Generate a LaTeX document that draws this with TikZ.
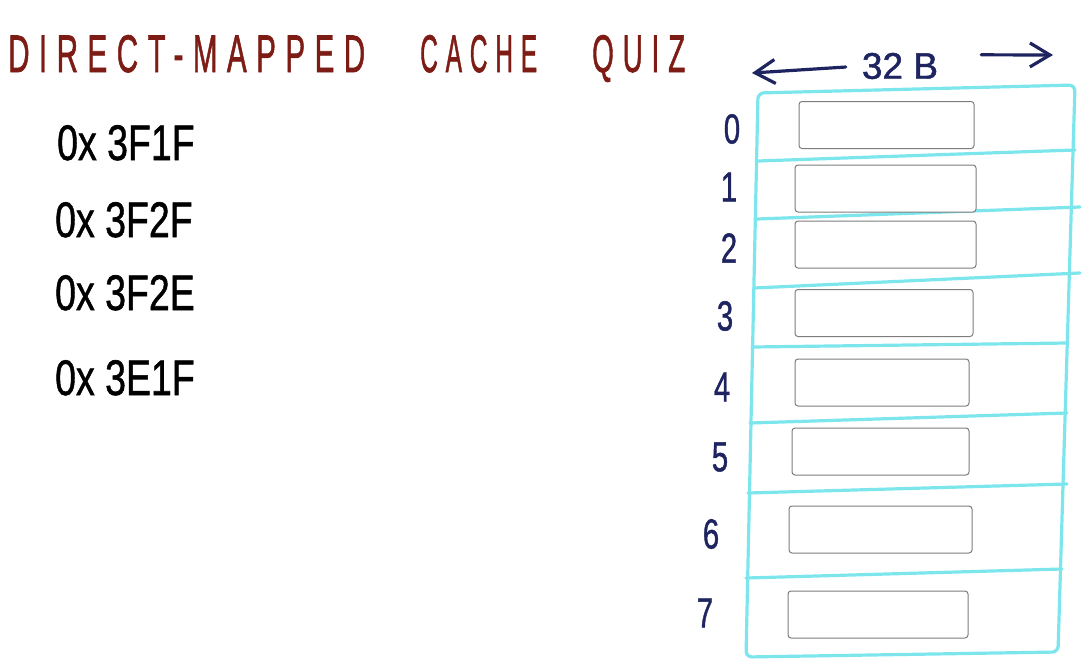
\documentclass[tikz,border=0pt]{standalone}
\usepackage{fontspec}
\setmainfont{Liberation Sans}
\newfontfamily\titlefont[LetterSpace=32,FakeBold=1.5]{Liberation Sans}
\newfontfamily\inkfont[FakeBold=1.2]{Liberation Sans}
\usepackage{tikz}
\usetikzlibrary{arrows.meta}

\definecolor{quizred}{RGB}{125,28,20}
\definecolor{inkblue}{RGB}{30,36,96}
\definecolor{gridcyan}{RGB}{125,230,236}
\definecolor{slotgray}{RGB}{125,125,125}

\begin{document}
\begin{tikzpicture}[
    x=1pt, y=-1pt,
    heading/.style={
        text=quizred,
        font=\titlefont\fontsize{44}{44}\selectfont,
        inner sep=0pt,
        anchor=base west
    },
    address/.style={
        font=\inkfont\fontsize{50}{50}\selectfont,
        xscale=0.75,
        inner sep=0pt,
        anchor=base west
    },
    index/.style={
        text=inkblue,
        font=\inkfont\fontsize{42}{42}\selectfont,
        xscale=0.7,
        inner sep=0pt
    },
    slot/.style={
        rectangle,
        rounded corners=3pt,
        draw=slotgray,
        fill=white,
        line width=1pt,
        minimum height=47pt,
        inner sep=0pt
    },
    gridline/.style={draw=gridcyan, line width=3.2pt, line cap=round, line join=round},
    arrow/.style={draw=inkblue, line width=3.2pt, line cap=round,
        -{Straight Barb[length=20pt,width=24pt,line width=3.2pt]}}
]
\useasboundingbox (0,0) rectangle (1092,662);

% Title
\node[heading] (direct) at (8,72)   {\resizebox{357pt}{37pt}{DIRECT-MAPPED}};
\node[heading] (cache)  at (420,72) {\resizebox{117pt}{37pt}{CACHE}};
\node[heading] (quiz)   at (592,72) {\resizebox{93pt}{37pt}{QUIZ}};

% Addresses
\node[address] (addr1) at (57,160) {0x 3F1F};
\node[address] (addr2) at (55,237) {0x 3F2F};
\node[address] (addr3) at (55,310) {0x 3F2E};
\node[address] (addr4) at (55,395) {0x 3E1F};

% Cache lines
\draw[gridline, rounded corners=6pt] (758,93) -- (1075,85) -- (1058,652) -- (746,657) -- cycle;
\foreach \xa/\ya/\xb/\yb in {758/161/1075/150, 757/219/1080/207, 754/288/1080/273,
    752/347/1068/343, 750/423/1067/413, 748/493/1067/484, 746/578/1062/569}
    \draw[gridline] (\xa,\ya) -- (\xb,\yb);

\foreach \i/\x/\y/\w in {0/886.5/125/175, 1/885.5/188.5/181, 2/885.5/244.5/181,
    3/884/313/178, 4/882/382.5/174, 5/880.5/451.5/177, 6/880.5/529.5/183, 7/878/614.5/180}
    \node[slot, minimum width=\w pt] (box\i) at (\x,\y) {};

% Set indices
\foreach \i/\x/\y in {0/732/129, 1/729/187, 2/729/248, 3/725/316,
    4/722/387, 5/720/457, 6/711/534, 7/705/613}
    \node[index] (set\i) at (\x,\y) {\i};

% Block size
\node[text=inkblue, font=\inkfont\fontsize{37}{37}\selectfont, inner sep=0pt] (width) at (900,66) {32 B};
\coordinate (lefttip) at (752,73);
\coordinate (righttip) at (1053,55);
\draw[arrow, shorten <=16pt] (width.west) -- (lefttip);
\draw[arrow, shorten <=43pt] ([yshift=-2pt]width.north east) -- (righttip);

\end{tikzpicture}
\end{document}
